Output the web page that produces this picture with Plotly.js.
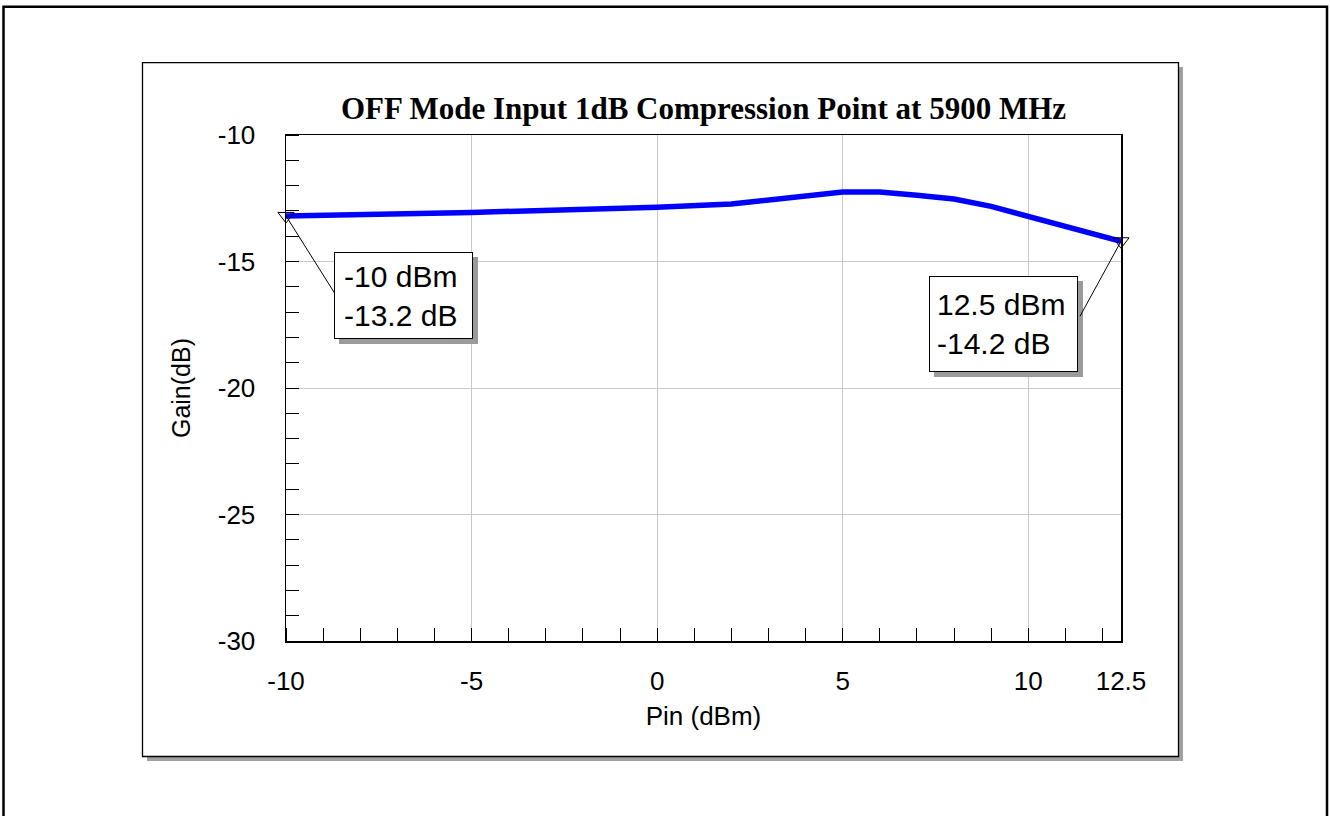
<!DOCTYPE html>
<html>
<head>
<meta charset="utf-8">
<script src="https://cdn.plot.ly/plotly-3.0.1.min.js"></script>
<style>html,body{margin:0;padding:0;background:#fff;}#chart{width:1330px;height:816px;}</style>
</head>
<body>
<div id="chart"></div>
<script>
// ---- data ----
const pinDbm = [-10, -5, 0, 2, 5, 6, 7, 8, 9, 10, 12.5];
const gainDb = [-13.2, -13.06, -12.86, -12.73, -12.25, -12.25, -12.38, -12.53, -12.82, -13.22, -14.2];
const xTickVals = [-10, -5, 0, 5, 10, 12.5];
const xTickText = ['-10', '-5', '0', '5', '10', '12.5'];
const yTickVals = [-30, -25, -20, -15, -10];
const yTickText = ['-30', '-25', '-20', '-15', '-10'];
const chartTitle = 'OFF Mode Input 1dB Compression Point at 5900 MHz';
const xTitle = 'Pin (dBm)';
const yTitle = 'Gain(dB)';

// ---- layout geometry (pixels) ----
const W = 1330, H = 816, ML = 286, MR = 209, MT = 135, MB = 175;
const PW = W - ML - MR, PH = H - MT - MB;
const px = v => (v - ML) / PW;
const py = v => (H - MB - v) / PH;

const sans = 'Liberation Sans, Arial, sans-serif';
const serif = 'Liberation Serif, Times New Roman, serif';

const iFirst = 0, iLast = pinDbm.length - 1;
const fmt = v => (Math.round(v * 10) / 10).toString();

const traces = [
  {
    x: pinDbm, y: gainDb, type: 'scatter', mode: 'lines',
    line: {color: '#0000ff', width: 5.5},
    hoverinfo: 'skip', cliponaxis: false
  },
  {
    x: [pinDbm[iFirst], pinDbm[iLast]], y: [gainDb[iFirst], gainDb[iLast]],
    type: 'scatter', mode: 'markers',
    marker: {symbol: 'triangle-down-open', size: 14, color: '#000', line: {width: 1, color: '#000'}},
    hoverinfo: 'skip', cliponaxis: false
  }
];

function boxShadow(x0, y0, x1, y1) {
  return {type: 'rect', xref: 'paper', yref: 'paper', layer: 'above',
    x0: px(x0 + 5), x1: px(x1 + 5), y0: py(y1 + 5), y1: py(y0 + 5),
    fillcolor: '#9a9a9a', line: {width: 0}};
}

const shapes = [
  // outer frame
  {type: 'rect', xref: 'paper', yref: 'paper', layer: 'below',
   x0: px(3.5), x1: px(1327), y0: py(840), y1: py(6.8),
   line: {color: '#000', width: 2.5}, fillcolor: 'rgba(0,0,0,0)'},
  // panel shadow
  {type: 'rect', xref: 'paper', yref: 'paper', layer: 'below',
   x0: px(147), x1: px(1183), y0: py(761), y1: py(67),
   fillcolor: '#a0a0a0', line: {width: 0}},
  // panel
  {type: 'rect', xref: 'paper', yref: 'paper', layer: 'below',
   x0: px(142.5), x1: px(1178.5), y0: py(756.5), y1: py(62.7),
   fillcolor: '#ffffff', line: {color: '#000', width: 1.3}},
  boxShadow(334, 252, 473, 339),
  boxShadow(929, 276, 1078, 372),
  // leader lines
  {type: 'line', xref: 'x', yref: 'y', layer: 'above',
   xsizemode: 'pixel', ysizemode: 'pixel',
   xanchor: pinDbm[iFirst], yanchor: gainDb[iFirst],
   x0: 0, y0: 0, x1: 48.5, y1: -77, line: {color: '#000', width: 1}},
  {type: 'line', xref: 'x', yref: 'y', layer: 'above',
   xsizemode: 'pixel', ysizemode: 'pixel',
   xanchor: pinDbm[iLast], yanchor: gainDb[iLast],
   x0: 0, y0: 0, x1: -41, y1: -75, line: {color: '#000', width: 1}}
];

const annotations = [
  {xref: 'paper', yref: 'paper', x: px(334), y: py(252), xanchor: 'left', yanchor: 'top',
   text: fmt(pinDbm[iFirst]) + ' dBm<br>' + fmt(gainDb[iFirst]) + ' dB',
   showarrow: false, align: 'left', valign: 'middle',
   bgcolor: '#ffffff', bordercolor: '#000', borderwidth: 1, borderpad: 9,
   width: 119, height: 67,
   font: {family: sans, size: 30, color: '#000'}},
  {xref: 'paper', yref: 'paper', x: px(929), y: py(276), xanchor: 'left', yanchor: 'top',
   text: fmt(pinDbm[iLast]) + ' dBm<br>' + fmt(gainDb[iLast]) + ' dB',
   showarrow: false, align: 'left', valign: 'middle',
   bgcolor: '#ffffff', bordercolor: '#000', borderwidth: 1, borderpad: 7,
   width: 133, height: 80,
   font: {family: sans, size: 30, color: '#000'}}
];

const axisCommon = {
  showline: true, linecolor: '#000', linewidth: 1.5, mirror: true,
  showgrid: true, gridcolor: '#c8c8c8', gridwidth: 1,
  zeroline: false, ticks: '', tickmode: 'array',
  tickfont: {family: sans, size: 26, color: '#000'},
  minor: {tickmode: 'linear', tick0: 0, dtick: 1, ticks: 'inside', ticklen: 13,
          tickcolor: '#000', tickwidth: 1, showgrid: false}
};

const layout = {
  width: W, height: H,
  margin: {l: ML, r: MR, t: MT, b: MB, pad: 0},
  paper_bgcolor: '#ffffff', plot_bgcolor: 'rgba(0,0,0,0)',
  showlegend: false,
  title: {text: chartTitle, font: {family: serif, size: 31, color: '#000', weight: 'bold'},
          x: 0.5, xref: 'paper', xanchor: 'center', y: 1 - 108 / H, yref: 'container', yanchor: 'middle'},
  xaxis: Object.assign({}, axisCommon, {
    range: [-10, 12.5], tickvals: xTickVals, ticktext: xTickText,
    ticklabelstandoff: 16,
    title: {text: xTitle, font: {family: sans, size: 26, color: '#000'}, standoff: 12}
  }),
  yaxis: Object.assign({}, axisCommon, {
    range: [-30, -10], tickvals: yTickVals, ticktext: yTickText,
    ticklabelstandoff: 24,
    title: {text: yTitle, font: {family: sans, size: 25, color: '#000'}, standoff: 20}
  }),
  shapes: shapes,
  annotations: annotations
};

Plotly.newPlot('chart', traces, layout, {staticPlot: true, displayModeBar: false});
</script>
</body>
</html>
